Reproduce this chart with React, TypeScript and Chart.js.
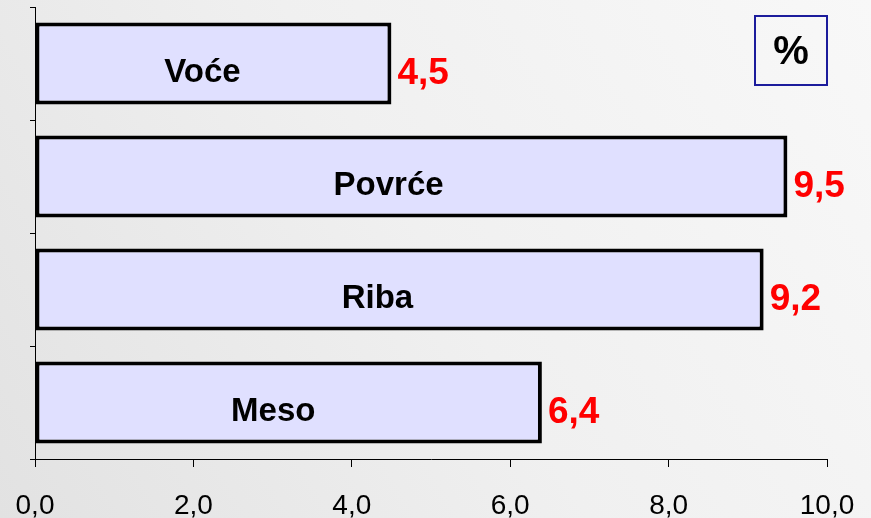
import React, { useEffect, useRef } from "react";
import { Chart, registerables } from "chart.js";

Chart.register(...registerables);

const categories = ["Voće", "Povrće", "Riba", "Meso"];
const values = [4.5, 9.5, 9.2, 6.4];
const xTicks = [0, 2, 4, 6, 8, 10];
const unitLabel = "%";

const FONT = "'Liberation Sans', Arial, sans-serif";

const fmt = (v: number) => v.toFixed(1).replace(".", ",");

const decorPlugin = {
  id: "decor",
  beforeDraw(chart: any) {
    const { ctx, width, height } = chart;
    ctx.save();
    const g = ctx.createLinearGradient(width, 0, 0, height);
    g.addColorStop(0, "#f8f8f8");
    g.addColorStop(0.5, "#f0f0f0");
    g.addColorStop(1, "#e2e2e2");
    ctx.fillStyle = g;
    ctx.fillRect(0, 0, width, height);
    ctx.restore();
  },
  afterDatasetsDraw(chart: any) {
    const { ctx, chartArea } = chart;
    const xScale = chart.scales.x;
    const meta = chart.getDatasetMeta(0);
    ctx.save();
    meta.data.forEach((bar: any, i: number) => {
      const v = values[i];
      ctx.font = `bold 33px ${FONT}`;
      ctx.fillStyle = "#000";
      ctx.textAlign = "center";
      ctx.textBaseline = "alphabetic";
      ctx.fillText(categories[i], xScale.getPixelForValue(v * 0.47), bar.y + 18);
      ctx.font = `bold 37px ${FONT}`;
      ctx.fillStyle = "#ff0000";
      ctx.textAlign = "left";
      ctx.fillText(fmt(v), bar.x + 6, bar.y + 20);
    });
    const bw = 72;
    const bh = 69;
    const bx = chartArea.right - bw;
    const by = chartArea.top + 9;
    ctx.strokeStyle = "#1c1c9c";
    ctx.lineWidth = 2;
    ctx.strokeRect(bx, by, bw, bh);
    ctx.font = `bold 40px ${FONT}`;
    ctx.fillStyle = "#000";
    ctx.textAlign = "center";
    ctx.textBaseline = "middle";
    ctx.fillText(unitLabel, bx + bw / 2, by + bh / 2 + 2);
    ctx.restore();
  },
};

export default function App() {
  const ref = useRef<HTMLCanvasElement>(null);
  useEffect(() => {
    if (!ref.current) return;
    const chart = new Chart(ref.current, {
      type: "bar",
      data: {
        labels: categories,
        datasets: [
          {
            data: values,
            backgroundColor: "#e0e0ff",
            borderColor: "#000000",
            borderWidth: 4,
            borderSkipped: false,
            barPercentage: 0.726,
            categoryPercentage: 1,
          },
        ],
      },
      options: {
        indexAxis: "y",
        animation: false,
        responsive: false,
        maintainAspectRatio: false,
        layout: { padding: { top: 7, right: 44, left: 0, bottom: 0 } },
        plugins: { legend: { display: false }, tooltip: { enabled: false } },
        scales: {
          x: {
            min: 0,
            max: 10,
            afterBuildTicks: (scale: any) => {
              scale.ticks = xTicks.map((v) => ({ value: v }));
            },
            ticks: {
              callback: (v: any) => fmt(Number(v)),
              font: { family: FONT, size: 28 },
              color: "#000",
              padding: 22,
              maxRotation: 0,
            },
            grid: {
              drawOnChartArea: false,
              tickLength: 8,
              color: "#000",
            },
            border: { color: "#000", width: 1 },
            afterFit: (scale: any) => {
              scale.height = 59;
              scale.paddingLeft = 0;
              scale.paddingRight = 0;
            },
          },
          y: {
            ticks: { display: false },
            grid: {
              offset: true,
              drawOnChartArea: false,
              tickLength: 5,
              color: "#000",
            },
            border: { color: "#000", width: 1 },
            afterFit: (scale: any) => {
              scale.width = 35;
              scale.paddingTop = 0;
              scale.paddingBottom = 0;
            },
          },
        },
      },
      plugins: [decorPlugin],
    });
    return () => chart.destroy();
  }, []);
  return (
    <div style={{ position: "fixed", left: 0, top: 0, width: 871, height: 518 }}>
      <canvas ref={ref} width={871} height={518} style={{ display: "block" }} />
    </div>
  );
}
